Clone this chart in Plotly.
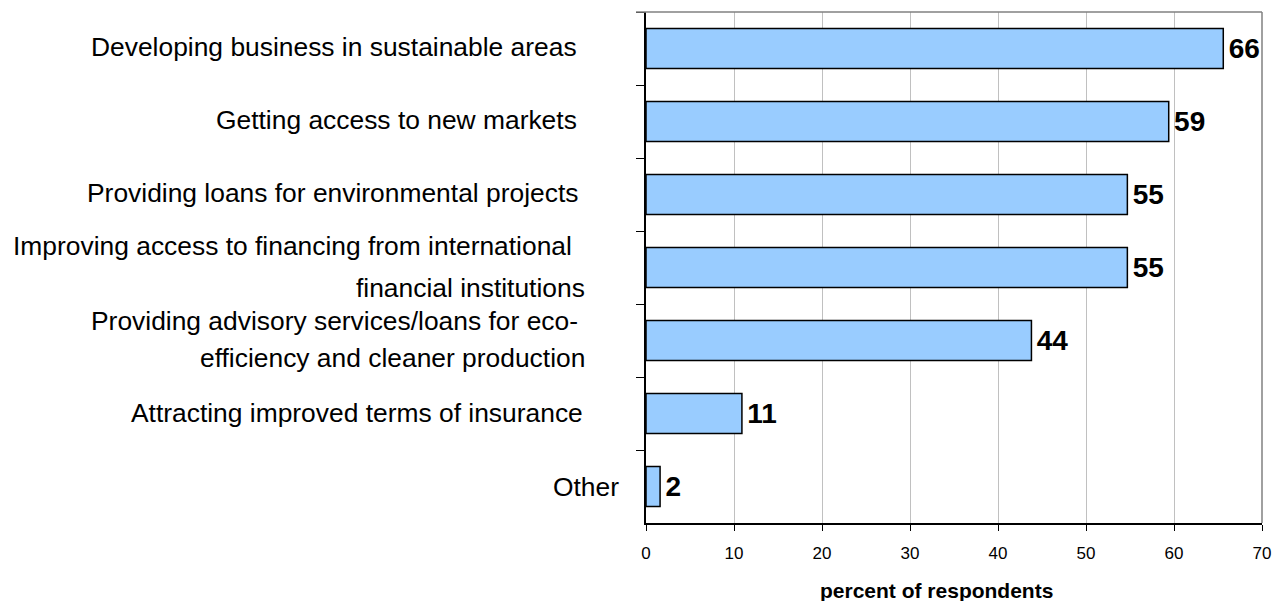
import plotly.graph_objects as go

categories = [
    "Developing business in sustainable areas",
    "Getting access to new markets",
    "Providing loans for environmental projects",
    "Improving access to financing from international financial institutions",
    "Providing advisory services/loans for eco-efficiency and cleaner production",
    "Attracting improved terms of insurance",
    "Other",
]
values = [65.6, 59.4, 54.7, 54.7, 43.8, 10.9, 1.6]
value_labels = ["66", "59", "55", "55", "44", "11", "2"]
# display lines for each category label
label_lines = [
    ["Developing business in sustainable areas"],
    ["Getting access to new markets"],
    ["Providing loans for environmental projects"],
    ["Improving access to financing from international", "financial institutions"],
    ["Providing advisory services/loans for eco-", "efficiency and cleaner production"],
    ["Attracting improved terms of insurance"],
    ["Other"],
]
x_ticks = [0, 10, 20, 30, 40, 50, 60, 70]
x_title = "percent of respondents"

FONT = "Liberation Sans, Arial, sans-serif"
W, H = 1276, 601
ML, MR, MT, MB = 646, 14, 12, 78
PW = W - ML - MR
PH = H - MT - MB

fig = go.Figure()
fig.add_trace(go.Bar(
    x=values, y=categories, orientation="h",
    marker=dict(color="#99CCFF", line=dict(color="#000000", width=1.5)),
    text=["\u200a" + v for v in value_labels], textposition="outside", constraintext="none",
    textfont=dict(family=FONT, size=28, color="#000000", weight="bold"),
    cliponaxis=False, hoverinfo="skip",
))

# label geometry: (right edge px, vertical offset px) per line
label_geom = [
    [(578, 1.5)],
    [(578, 1.5)],
    [(579, 1.5)],
    [(573, 21.5), (586, -20.5)],
    [(579, 19.5), (586, -17.5)],
    [(584, 1)],
    [(620, 0)],
]
annotations = []
for cat, lines, geom in zip(categories, label_lines, label_geom):
    for line, (rx, dy) in zip(lines, geom):
        annotations.append(dict(
            text=line, xref="paper", yref="y", x=(rx - ML) / PW, y=cat,
            xanchor="right", yanchor="middle", yshift=dy, showarrow=False,
            borderpad=0,
            font=dict(family=FONT, size=26.4, color="#000000"),
        ))
annotations.append(dict(
    text="<b>" + x_title + "</b>", xref="paper", yref="paper",
    x=(936.5 - ML) / PW, y=1 - (590 - MT) / PH, xanchor="center", yanchor="middle",
    showarrow=False, font=dict(family=FONT, size=21, color="#000000"),
))

shapes = [
    dict(type="line", xref="paper", yref="paper", x0=-10 / PW, x1=1, y0=1, y1=1,
         line=dict(color="#808080", width=1.5)),
    dict(type="line", xref="paper", yref="paper", x0=1, x1=1, y0=0, y1=1,
         line=dict(color="#808080", width=1.5)),
]

fig.update_layout(
    width=W, height=H, margin=dict(l=ML, r=MR, t=MT, b=MB, autoexpand=False),
    paper_bgcolor="white", plot_bgcolor="white",
    bargap=0.45, showlegend=False,
    font=dict(family=FONT, color="#000000"),
    annotations=annotations, shapes=shapes,
    xaxis=dict(range=[0, 70], tickvals=x_ticks, showgrid=True, gridcolor="#C0C0C0",
               gridwidth=1, zeroline=False, showline=True, linecolor="#000000",
               linewidth=1.5, ticks="outside", ticklen=6, tickcolor="#000000",
               ticklabelstandoff=8, automargin=False,
               tickfont=dict(family=FONT, size=17, color="#000000")),
    yaxis=dict(autorange="reversed", showticklabels=False, showgrid=False,
               showline=True, linecolor="#000000", linewidth=1.5, automargin=False,
               ticks="outside", tickson="boundaries", ticklen=8, tickcolor="#000000"),
)

fig.write_html("out.html", config={"displayModeBar": False},
               post_script="document.body.style.margin='0';")
